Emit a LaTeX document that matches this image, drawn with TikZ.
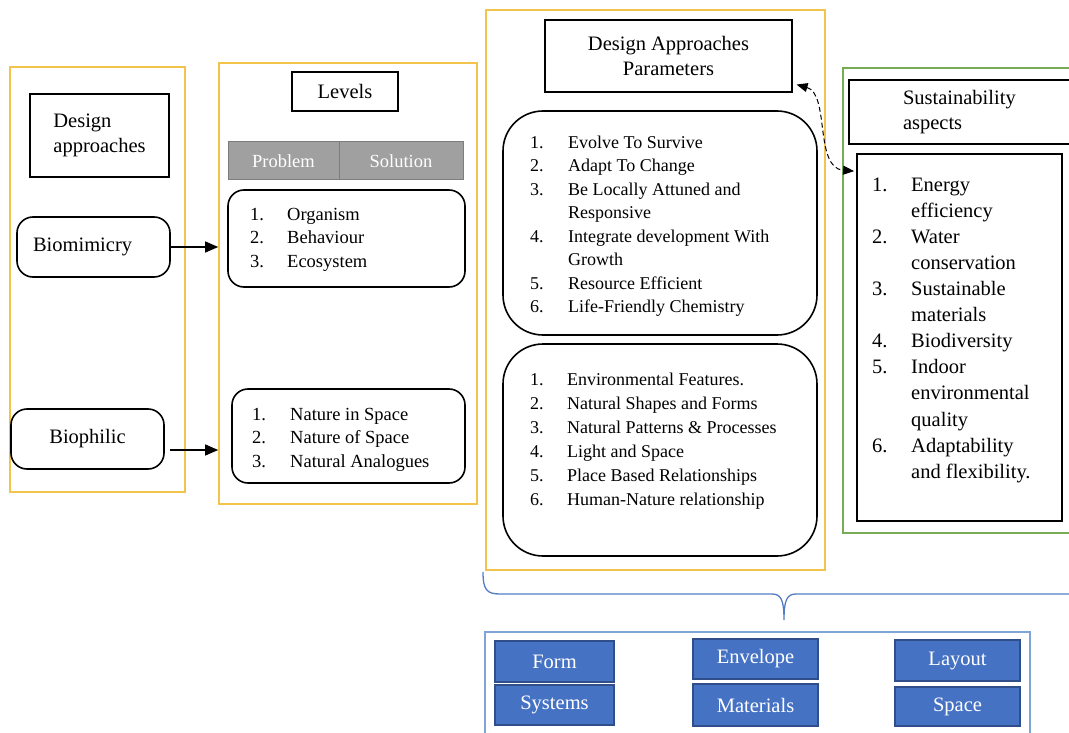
\documentclass[tikz,border=0pt]{standalone}
\usepackage{fontspec}
\setmainfont{Liberation Serif}
\usetikzlibrary{arrows.meta,calc}

\definecolor{frameyellow}{RGB}{242,196,76}
\definecolor{framegreen}{RGB}{120,172,84}
\definecolor{braceblue}{RGB}{84,124,196}
\definecolor{lightblue}{RGB}{126,164,216}
\definecolor{cellblue}{RGB}{70,114,196}
\definecolor{cellborder}{RGB}{48,78,138}
\definecolor{cellgrey}{RGB}{160,160,160}
\definecolor{cellline}{RGB}{125,125,125}

\begin{document}
\begin{tikzpicture}[x=1pt, y=-1pt,
        font=\fontsize{18.5}{23.5}\selectfont,
        >={Triangle[length=13pt,width=11pt]},
        yframe/.style={draw=frameyellow, line width=1.6pt, inner sep=0pt},
        gframe/.style={draw=framegreen, line width=1.6pt, inner sep=0pt},
        bframe/.style={draw=lightblue, line width=1.6pt, inner sep=0pt},
        hbox/.style={draw, line width=1.1pt, font=\fontsize{20.5}{25}\selectfont},
        rbox/.style={draw, line width=1.6pt, rounded corners=16pt, font=\fontsize{20.5}{25}\selectfont},
        bigrbox/.style={draw, line width=1.6pt, rounded corners=40pt},
        gcell/.style={draw=cellline, fill=cellgrey, text=white, line width=1pt},
        bcell/.style={draw=cellborder, fill=cellblue, text=white, line width=1.4pt,
            font=\fontsize{20.5}{25}\selectfont},
        lst/.style={inner sep=0pt, anchor=west}]
        \useasboundingbox (0,0) rectangle (1069,733);
        \clip (0,0) rectangle (1069,733);
        
        % frames
        \node[yframe, minimum width=175pt, minimum height=425pt] (appframe) at (97.5,279.5) {};
        \node[yframe, minimum width=258pt, minimum height=441pt] (lvlframe) at (348,283.5) {};
        \node[yframe, minimum width=339pt, minimum height=560pt] (parframe) at (655.5,290) {};
        \node[gframe, minimum width=232pt, minimum height=465pt] (susframe) at (959,300.5) {};
        \node[bframe, minimum width=545pt, minimum height=113pt] (optframe) at (757.5,688.5) {};
        
        % design approaches
        \node[hbox, minimum width=139pt, minimum height=83pt, align=left] (appttl) at (99.5,135.5) {Design\\approaches};
        \node[rbox, minimum width=153pt, minimum height=60pt, align=left, text width=121pt] (bmc) at (93.5,247) {Biomimicry};
        \node[rbox, minimum width=153pt, minimum height=60pt] (bph) at (87.5,439) {Biophilic};
        
        % levels
        \node[hbox, minimum width=106pt, minimum height=39pt] (lvlttl) at (345,91.5) {Levels};
        \node[gcell, minimum width=111pt, minimum height=38pt] (prob) at (283.5,161) {Problem};
        \node[gcell, minimum width=124pt, minimum height=38pt] (sol) at (401,161) {Solution};
        \node[rbox, minimum width=237pt, minimum height=97pt] (bmclvl) at (346.5,238.5) {};
        \node[lst] (bmclist) at (250,239) {\begin{tabular}{@{}p{37pt}@{}l@{}}
                1. & Organism\\ 2. & Behaviour\\ 3. & Ecosystem
            \end{tabular}};
        \node[rbox, minimum width=233pt, minimum height=94pt] (bphlvl) at (348.5,436) {};
        \node[lst] (bphlist) at (252,439) {\begin{tabular}{@{}p{38pt}@{}l@{}}
                1. & Nature in Space\\ 2. & Nature of Space\\ 3. & Natural Analogues
            \end{tabular}};
        
        \draw[->, line width=1.1pt] (bmc.east) -- (bmc.east -| lvlframe.west);
        \coordinate (bphout) at ($(bph.east)+(5,11)$);
        \draw[->, line width=1.1pt] (bphout) -- (bphout -| lvlframe.west);
        
        % parameters
        \node[hbox, minimum width=247pt, minimum height=72pt, align=center] (parttl) at (668.5,56) {Design Approaches\\Parameters};
        \node[bigrbox, minimum width=314pt, minimum height=224pt] (bmcpar) at (660,223) {};
        \node[lst, font=\fontsize{18}{23.5}\selectfont] (bmcparlist) at (530,226) {\begin{tabular}{@{}p{38pt}@{}l@{}}
                1. & Evolve To Survive\\ 2. & Adapt To Change\\
                3. & Be Locally Attuned and\\ & Responsive\\
                4. & Integrate development With\\ & Growth\\
                5. & Resource Efficient\\ 6. & Life-Friendly Chemistry
            \end{tabular}};
        \node[bigrbox, minimum width=314pt, minimum height=212pt] (bphpar) at (660,450) {};
        \node[lst, font=\fontsize{18}{24}\selectfont] (bphparlist) at (530,441) {\begin{tabular}{@{}p{37pt}@{}l@{}}
                1. & Environmental Features.\\ 2. & Natural Shapes and Forms\\
                3. & Natural Patterns \& Processes\\ 4. & Light and Space\\
                5. & Place Based Relationships\\ 6. & Human-Nature relationship
            \end{tabular}};
        
        % sustainability
        \node[hbox, minimum width=226pt, minimum height=64pt, align=left, text width=118pt] (susttl) at (962,112) {Sustainability\\aspects};
        \node[draw, line width=1.8pt, minimum width=205pt, minimum height=367pt] (suslist) at (959.5,337.5) {};
        \node[lst, font=\fontsize{20.5}{26.1}\selectfont] (susitems) at (872,329.5) {\begin{tabular}{@{}p{39pt}@{}l@{}}
                1. & Energy\\ & efficiency\\ 2. & Water\\ & conservation\\
                3. & Sustainable\\ & materials\\ 4. & Biodiversity\\
                5. & Indoor\\ & environmental\\ & quality\\
                6. & Adaptability\\ & and flexibility.
            \end{tabular}};
        
        \coordinate (dashtop) at ($(parttl.south east)+(4,-8)$);
        \coordinate (dashbot) at ($(suslist.north west)+(-2,18)$);
        \draw[<->, >={Triangle[length=11pt,width=9pt]}, dash pattern=on 5pt off 3pt, line width=1pt]
            (dashtop) .. controls (830,94) and (814,168) .. (dashbot);
        
        % brace
        \draw[braceblue, line width=1.3pt] (483,572) .. controls (483,590) and (487,594) .. (500,594)
            -- (772,594) .. controls (781,594) and (784,600) .. (784,620)
            .. controls (784,600) and (787,594) .. (796,594) -- (1080,594);
        
        % options
        \node[bcell, minimum width=119pt, minimum height=41pt] (form) at (554.5,661.5) {Form};
        \node[bcell, minimum width=119pt, minimum height=40pt] (sys) at (554.5,705) {Systems};
        \node[bcell, minimum width=125pt, minimum height=40pt] (env) at (755.5,659) {Envelope};
        \node[bcell, minimum width=125pt, minimum height=42pt] (mat) at (755.5,705) {Materials};
        \node[bcell, minimum width=125pt, minimum height=41pt] (lay) at (957.5,660.5) {Layout};
        \node[bcell, minimum width=125pt, minimum height=39pt] (spc) at (957.5,706.5) {Space};
    \end{tikzpicture}
\end{document}
